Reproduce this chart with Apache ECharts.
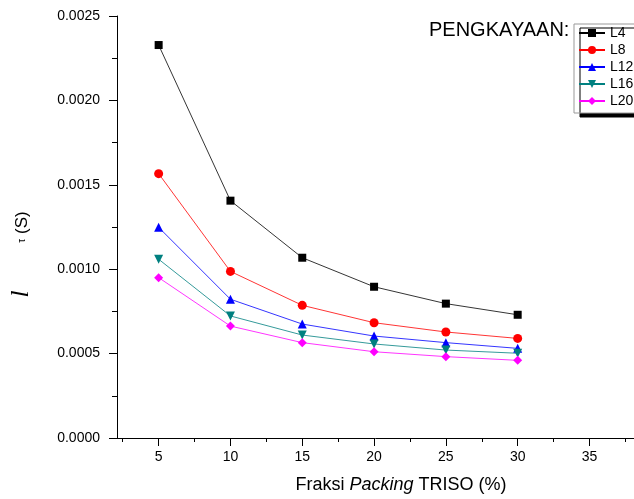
<!DOCTYPE html>
<html>
<head>
<meta charset="utf-8">
<script src="https://cdn.jsdelivr.net/npm/echarts@6/dist/echarts.min.js"></script>
<style>
  html, body { margin: 0; padding: 0; background: #fff; }
  #main { width: 634px; height: 499px; }
</style>
</head>
<body>
<div id="main"></div>
<script>
// fraksi packing TRISO (%)
var fraksi = [5, 10, 15, 20, 25, 30];
// nilai tau (S) per pengkayaan
var L4 = [0.002328, 0.001406, 0.001068, 0.000896, 0.000796, 0.00073];
var L8 = [0.001566, 0.000987, 0.000786, 0.000683, 0.000628, 0.00059];
var L12 = [0.001248, 0.000822, 0.000675, 0.000604, 0.000565, 0.000531];
var L16 = [0.001059, 0.000723, 0.00061, 0.000557, 0.000521, 0.000502];
var L20 = [0.00095, 0.000663, 0.000565, 0.000511, 0.000482, 0.00046];
var xLabels = [5, 10, 15, 20, 25, 30, 35];
var xMajorTicks = [5, 10, 15, 20, 25, 30, 35];
var xMinorTicks = [2.5, 7.5, 12.5, 17.5, 22.5, 27.5, 32.5, 37.5];

function pairs(ys) {
  return fraksi.map(function (x, i) {
    return [x, ys[i]];
  });
}

var font = "Liberation Sans, Arial, sans-serif";

function mkSeries(name, ys, color, symbol, rotate) {
  return {
    name: name,
    type: "line",
    xAxisIndex: 0,
    data: pairs(ys),
    symbol: symbol,
    symbolSize: symbol === "rect" ? 8 : 9,
    symbolRotate: rotate || 0,
    lineStyle: { color: color, width: 0.8 },
    itemStyle: { color: color },
    emphasis: { disabled: true },
    z: 3,
  };
}

var mychart = echarts.init(document.getElementById("main"));
var option = {
  animation: false,
  textStyle: { fontFamily: font },
  grid: {
    left: 117,
    top: 16,
    bottom: 61,
    right: 0,
    containLabel: false,
  },
  legend: {
    orient: "vertical",
    left: 574,
    top: 24,
    padding: [2, 30, 5, 4],
    itemWidth: 26,
    itemHeight: 10,
    itemGap: 3,
    backgroundColor: "#fff",
    borderColor: "#999",
    borderWidth: 1,
    shadowColor: "#000",
    shadowOffsetX: 6,
    shadowOffsetY: 4,
    shadowBlur: 0,
    textStyle: { color: "#000", fontSize: 14, fontFamily: font },
    data: ["L4", "L8", "L12", "L16", "L20"],
  },
  xAxis: [
    {
      type: "value",
      min: 2.1,
      max: 38.1,
      axisLine: { lineStyle: { color: "#000", width: 1 } },
      axisTick: {
        inside: false,
        length: 8,
        customValues: xMajorTicks,
        lineStyle: { color: "#000" },
      },
      axisLabel: {
        customValues: xLabels,
        margin: 12,
        color: "#000",
        fontSize: 14,
        fontFamily: font,
      },
      splitLine: { show: false },
    },
    {
      type: "value",
      min: 2.1,
      max: 38.1,
      position: "bottom",
      axisLine: { show: false },
      axisTick: {
        length: 4,
        customValues: xMinorTicks,
        lineStyle: { color: "#000" },
      },
      axisLabel: { show: false },
      splitLine: { show: false },
    },
  ],
  yAxis: {
    type: "value",
    min: 0,
    max: 0.0025,
    interval: 0.0005,
    axisLine: { show: true, lineStyle: { color: "#000", width: 1 } },
    axisTick: { show: true, length: 8, lineStyle: { color: "#000" } },
    minorTick: { show: true, splitNumber: 2, length: 5, lineStyle: { color: "#000" } },
    axisLabel: {
      margin: 17,
      color: "#000",
      fontSize: 14,
      fontFamily: font,
      formatter: function (v) {
        return v.toFixed(4);
      },
    },
    splitLine: { show: false },
  },
  graphic: [
    {
      type: "text",
      left: 429,
      top: 20,
      style: { text: "PENGKAYAAN:", fontSize: 20, fontFamily: font, fill: "#000" },
    },
    {
      type: "text",
      x: 401,
      y: 485,
      style: {
        text: "Fraksi {i|Packing} TRISO (%)",
        fontSize: 18,
        fontFamily: font,
        fill: "#000",
        align: "center",
        verticalAlign: "middle",
        rich: { i: { fontStyle: "italic", fontSize: 18, fontFamily: font } },
      },
    },
    {
      type: "text",
      x: 22,
      y: 227,
      rotation: Math.PI / 2,
      style: {
        text: "{t|τ} (S)",
        fontSize: 17,
        fontFamily: font,
        fill: "#000",
        align: "center",
        verticalAlign: "middle",
        rich: { t: { fontSize: 10, fontFamily: font } },
      },
    },
    {
      type: "text",
      x: 21,
      y: 294,
      rotation: Math.PI / 2,
      style: {
        text: "l",
        fontSize: 25,
        fontStyle: "italic",
        fontFamily: "Liberation Serif, serif",
        fill: "#000",
        align: "center",
        verticalAlign: "middle",
      },
    },
  ],
  series: [
    mkSeries("L4", L4, "#000000", "rect"),
    mkSeries("L8", L8, "#ff0000", "circle"),
    mkSeries("L12", L12, "#0000ff", "triangle"),
    mkSeries("L16", L16, "#008080", "triangle", 180),
    mkSeries("L20", L20, "#ff00ff", "diamond"),
  ],
};
mychart.setOption(option);
</script>
</body>
</html>
